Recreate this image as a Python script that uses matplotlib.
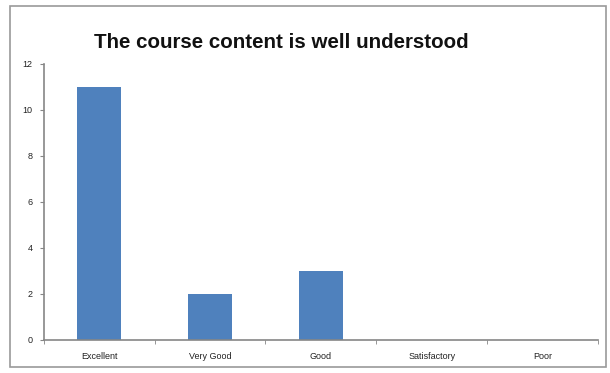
import numpy as np
import matplotlib.pyplot as plt
from matplotlib.patches import Rectangle

categories = ['Excellent', 'Very Good', 'Good', 'Satisfactory', 'Poor']
counts = [11, 2, 3, 0, 0]
y_ticks = [0, 2, 4, 6, 8, 10, 12]

plt.rcParams['font.family'] = ['Liberation Sans', 'DejaVu Sans']

fig = plt.figure(figsize=(6.1, 3.73), dpi=100)
ax = fig.add_axes([0.072, 0.0885, 0.908, 0.74])

x = np.arange(len(categories))
ax.bar(x, counts, width=0.4, color='#4F81BD', zorder=2)

ax.set_xlim(-0.5, len(categories) - 0.5)
ax.set_ylim(0, 12)
ax.set_yticks(y_ticks)
ax.set_xticks(x)
ax.set_xticklabels(categories)
# category boundary ticks on the x axis
ax.set_xticks(np.arange(len(categories) + 1) - 0.5, minor=True)
ax.tick_params(axis='x', which='major', length=0, labelsize=6.5, pad=9, colors='#222222')
ax.tick_params(axis='x', which='minor', length=3, color='#868686', direction='out')
ax.tick_params(axis='y', length=3, color='#868686', labelsize=6.5, labelcolor='#222222', pad=5)

for side in ['top', 'right']:
    ax.spines[side].set_visible(False)
for side in ['left', 'bottom']:
    ax.spines[side].set_color('#868686')
    ax.spines[side].set_linewidth(1.2)

fig.text(0.461, 0.885, 'The course content is well understood',
         ha='center', va='center', fontsize=14.8, fontweight='bold', color='#111111')

# outer chart frame
fig.patches.append(Rectangle((10 / 610, 6 / 373), 596 / 610, 361 / 373,
                             transform=fig.transFigure, fill=False,
                             edgecolor='#9a9a9a', linewidth=1.2))

fig.savefig('out.png', dpi=100)
